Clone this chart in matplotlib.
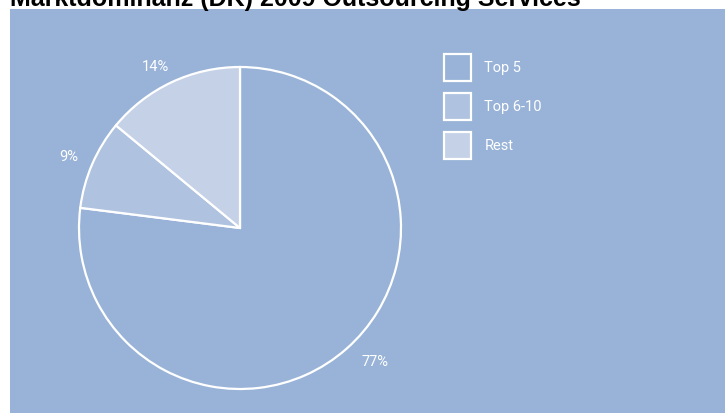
import matplotlib
matplotlib.use("Agg")
import numpy as np
import matplotlib.pyplot as plt
from matplotlib.patches import Rectangle

# Data
categories = ["Top 5", "Top 6-10", "Rest"]
shares = [77, 9, 14]

bg_color = "#98b3d7"
slice_colors = ["#98b3d7", "#afc2df", "#c5d1e7"]

# Per-label placement tweaks: (radius factor, angle nudge in degrees)
label_place = [(1.175, 4.0), (1.155, 0.7), (1.136, 2.5)]

W, H, DPI = 725, 414, 100
fig = plt.figure(figsize=(W / DPI, H / DPI), dpi=DPI)
fig.patch.set_facecolor("white")


def px(x, y):
    """Pixel position from the top-left corner -> figure fraction."""
    return x / W, (H - y) / H


# Blue panel behind the chart
fig.patches.append(Rectangle((10 / W, 0), 1 - 10 / W, (H - 10) / H,
                             transform=fig.transFigure, facecolor=bg_color,
                             edgecolor="none", zorder=-10))

# Title (partly clipped at the top edge)
fig.text(*px(10, 6), "Marktdominanz (DK) 2009 Outsourcing Services",
         fontsize=18, fontweight="bold", family="Liberation Sans",
         color="black", va="baseline", ha="left")

# Pie axes: centre (240, 229) px, radius 161 px
cx, cy, r = 240, 229, 161
ax = fig.add_axes([(cx - r) / W, (H - cy - r) / H, 2 * r / W, 2 * r / H])
ax.set_facecolor("none")
wedges, texts, autotexts = ax.pie(
    shares, colors=slice_colors, startangle=90, counterclock=False,
    autopct=lambda p: f"{p:.0f}%", pctdistance=1.15,
    wedgeprops=dict(edgecolor="white", linewidth=1.6),
    textprops=dict(color="white", fontsize=10.5, family="Roboto"))
for w, t, (rf, dth) in zip(wedges, autotexts, label_place):
    mid = np.deg2rad((w.theta1 + w.theta2) / 2 + dth)
    t.set_position((rf * np.cos(mid), rf * np.sin(mid)))
ax.set_xlim(-1, 1)
ax.set_ylim(-1, 1)
ax.set_aspect("equal")
ax.axis("off")

# Legend: outlined square swatches with labels
box, x0, y0, step = 27, 443.5, 54.5, 39
for i, (name, col) in enumerate(zip(categories, slice_colors)):
    top = y0 + i * step
    fx, fy = px(x0, top + box)
    fig.patches.append(Rectangle((fx, fy), box / W, box / H,
                                 transform=fig.transFigure, facecolor=col,
                                 edgecolor="white", linewidth=1.6, zorder=2))
    fig.text(*px(x0 + box + 14, top + box / 2), name, color="white",
             fontsize=10.5, family="Roboto", va="center", ha="left")

fig.savefig("out.png", dpi=DPI, facecolor=fig.get_facecolor())
